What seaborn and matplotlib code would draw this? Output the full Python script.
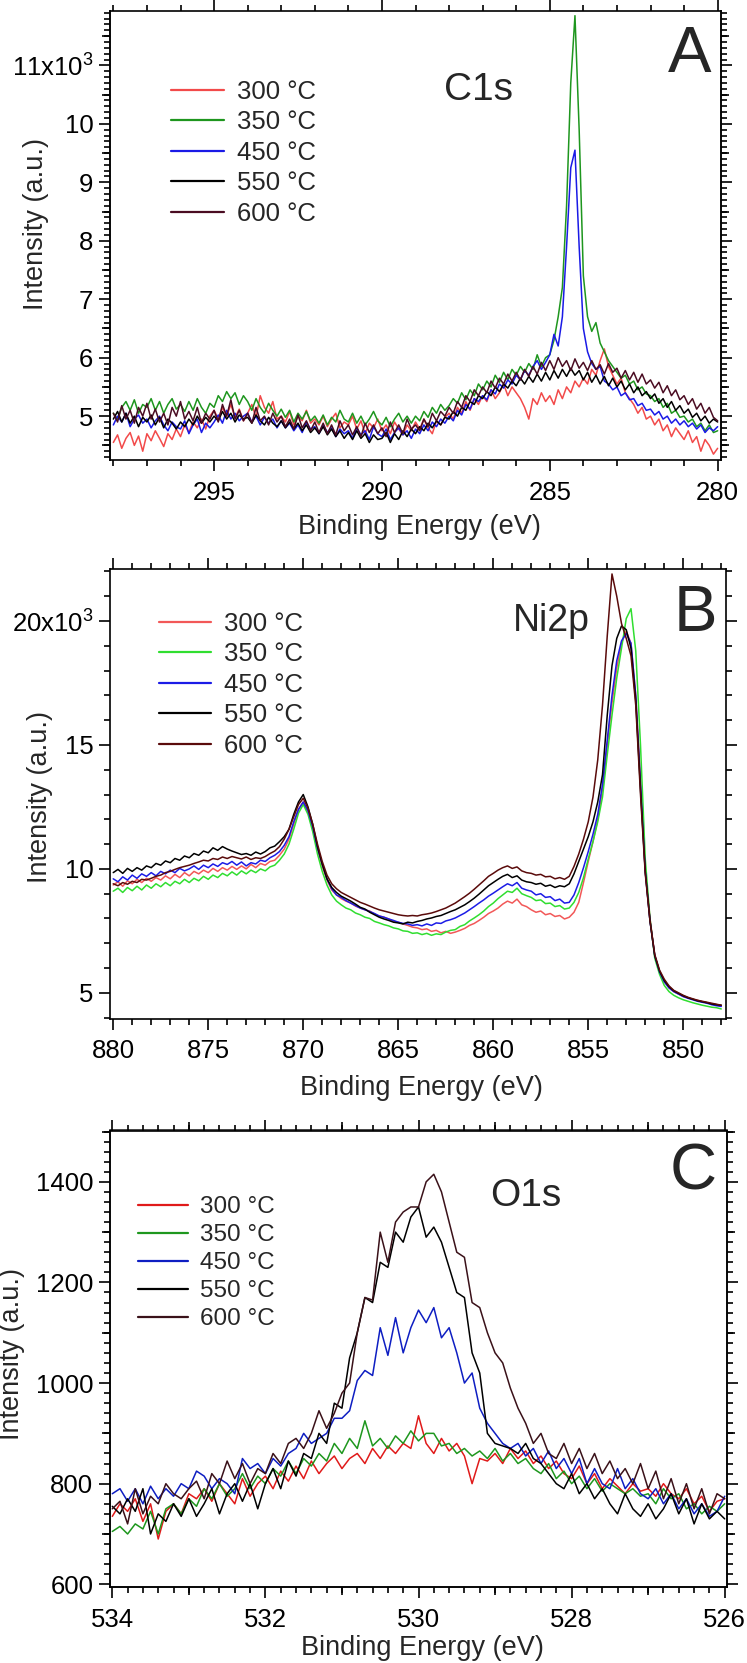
import numpy as np
import pandas as pd
import matplotlib
matplotlib.use("Agg")
import matplotlib.pyplot as plt
import seaborn as sns
from matplotlib.ticker import MultipleLocator, FuncFormatter

sns.set_theme(style="ticks")
plt.rcParams['font.family'] = ['Liberation Sans', 'DejaVu Sans']
plt.rcParams['mathtext.default'] = 'regular'

W, H = 747, 1663

# ==========================================
# DATA
# ==========================================
temps = ["300 °C", "350 °C", "450 °C", "550 °C", "600 °C"]

# --- Panel A: C1s, intensity in 10^3 counts (one row = 1 eV) ---
c1s_energy = [298.0, 297.875, 297.75, 297.625, 297.5, 297.375, 297.25, 297.125,
              297.0, 296.875, 296.75, 296.625, 296.5, 296.375, 296.25, 296.125,
              296.0, 295.875, 295.75, 295.625, 295.5, 295.375, 295.25, 295.125,
              295.0, 294.875, 294.75, 294.625, 294.5, 294.375, 294.25, 294.125,
              294.0, 293.875, 293.75, 293.625, 293.5, 293.375, 293.25, 293.125,
              293.0, 292.875, 292.75, 292.625, 292.5, 292.375, 292.25, 292.125,
              292.0, 291.875, 291.75, 291.625, 291.5, 291.375, 291.25, 291.125,
              291.0, 290.875, 290.75, 290.625, 290.5, 290.375, 290.25, 290.125,
              290.0, 289.875, 289.75, 289.625, 289.5, 289.375, 289.25, 289.125,
              289.0, 288.875, 288.75, 288.625, 288.5, 288.375, 288.25, 288.125,
              288.0, 287.875, 287.75, 287.625, 287.5, 287.375, 287.25, 287.125,
              287.0, 286.875, 286.75, 286.625, 286.5, 286.375, 286.25, 286.125,
              286.0, 285.875, 285.75, 285.625, 285.5, 285.375, 285.25, 285.125,
              285.0, 284.875, 284.75, 284.625, 284.5, 284.375, 284.25, 284.125,
              284.0, 283.875, 283.75, 283.625, 283.5, 283.375, 283.25, 283.125,
              283.0, 282.875, 282.75, 282.625, 282.5, 282.375, 282.25, 282.125,
              282.0, 281.875, 281.75, 281.625, 281.5, 281.375, 281.25, 281.125,
              281.0, 280.875, 280.75, 280.625, 280.5, 280.375, 280.25, 280.125,
              280.0]
c1s_300 = [4.55, 4.68, 4.45, 4.62, 4.72, 4.50, 4.66, 4.40,
           4.70, 4.58, 4.75, 4.62, 4.48, 4.70, 4.60, 4.78,
           4.65, 4.85, 4.72, 4.90, 4.80, 4.95, 4.78, 5.00,
           5.10, 4.95, 5.15, 5.00, 5.20, 4.98, 5.12, 4.92,
           5.05, 5.20, 4.98, 5.35, 5.15, 5.05, 5.25, 4.95,
           5.00, 4.90, 5.08, 4.85, 5.00, 4.92, 5.10, 4.88,
           4.95, 4.85, 5.00, 4.82, 4.95, 5.05, 4.80, 4.90,
           4.85, 5.00, 4.78, 4.92, 4.70, 4.88, 4.80, 4.95,
           4.75, 4.85, 4.70, 4.90, 4.78, 4.68, 4.85, 4.75,
           4.90, 4.78, 4.95, 4.80, 4.70, 4.92, 4.85, 4.98,
           5.05, 4.95, 5.15, 5.05, 5.25, 5.10, 5.30, 5.20,
           5.35, 5.25, 5.45, 5.30, 5.40, 5.55, 5.35, 5.50,
           5.40, 5.30, 5.15, 4.95, 5.30, 5.20, 5.40, 5.25,
           5.35, 5.20, 5.45, 5.30, 5.50, 5.40, 5.60, 5.50,
           5.65, 5.55, 5.80, 5.70, 5.95, 6.15, 5.85, 5.70,
           5.55, 5.65, 5.40, 5.30, 5.20, 5.05, 5.15, 4.95,
           5.00, 4.85, 4.95, 4.75, 4.85, 4.65, 4.80, 4.70,
           4.60, 4.75, 4.55, 4.65, 4.40, 4.60, 4.50, 4.35,
           4.45]
c1s_350 = [5.05, 4.95, 5.15, 5.25, 5.10, 5.28, 5.05, 5.20,
           5.15, 5.30, 5.10, 5.25, 5.05, 5.20, 5.30, 5.12,
           5.20, 5.08, 5.25, 5.10, 5.30, 5.15, 5.05, 5.22,
           5.15, 5.35, 5.25, 5.42, 5.30, 5.40, 5.20, 5.35,
           5.25, 5.10, 5.30, 5.15, 5.05, 5.22, 5.10, 5.00,
           5.12, 4.98, 5.10, 4.90, 5.05, 4.95, 5.08, 4.92,
           5.00, 4.88, 5.02, 4.85, 4.98, 4.90, 5.10, 4.95,
           4.90, 5.05, 4.88, 5.00, 4.85, 4.95, 5.08, 4.92,
           4.85, 4.98, 4.82, 4.95, 5.05, 4.90, 5.00, 4.88,
           5.00, 4.92, 5.08, 4.98, 5.15, 5.05, 5.20, 5.10,
           5.18, 5.30, 5.22, 5.40, 5.28, 5.45, 5.35, 5.55,
           5.45, 5.60, 5.50, 5.70, 5.58, 5.75, 5.62, 5.80,
           5.70, 5.85, 5.75, 5.90, 5.80, 6.05, 5.85, 6.00,
           6.05, 6.30, 6.70, 7.20, 8.60, 10.70, 11.85, 9.90,
           7.40, 6.70, 6.45, 6.60, 6.25, 6.10, 5.95, 5.85,
           5.75, 5.65, 5.70, 5.55, 5.60, 5.45, 5.50, 5.38,
           5.35, 5.25, 5.30, 5.15, 5.22, 5.05, 5.10, 4.98,
           5.00, 4.90, 4.95, 4.82, 4.88, 4.75, 4.85, 4.72,
           4.75]
c1s_450 = [4.85, 5.00, 4.90, 5.05, 4.82, 4.95, 5.02, 4.88,
           4.95, 4.80, 4.92, 5.00, 4.85, 4.75, 4.90, 4.82,
           4.78, 4.92, 4.70, 4.85, 4.95, 4.72, 4.88, 4.80,
           4.90, 5.02, 4.88, 5.10, 4.95, 5.05, 4.92, 5.00,
           5.05, 4.90, 5.00, 4.85, 4.98, 4.88, 4.95, 4.80,
           4.92, 4.80, 4.88, 4.75, 4.85, 4.72, 4.90, 4.78,
           4.82, 4.70, 4.85, 4.72, 4.80, 4.65, 4.78, 4.70,
           4.75, 4.62, 4.80, 4.68, 4.75, 4.60, 4.82, 4.70,
           4.65, 4.78, 4.60, 4.72, 4.80, 4.68, 4.75, 4.62,
           4.78, 4.70, 4.85, 4.75, 4.90, 4.82, 4.95, 4.88,
           5.00, 4.92, 5.10, 5.02, 5.20, 5.12, 5.30, 5.25,
           5.35, 5.28, 5.45, 5.38, 5.55, 5.48, 5.62, 5.55,
           5.70, 5.62, 5.78, 5.70, 5.85, 5.95, 5.80, 5.92,
           6.05, 6.40, 6.20, 6.70, 7.90, 9.25, 9.55, 7.90,
           6.50, 6.10, 5.90, 5.80, 5.85, 5.60, 5.55, 5.45,
           5.50, 5.35, 5.40, 5.28, 5.30, 5.18, 5.22, 5.10,
           5.12, 5.02, 5.08, 4.95, 5.00, 4.88, 4.95, 4.85,
           4.92, 4.82, 4.88, 4.78, 4.85, 4.72, 4.80, 4.75,
           4.82]
c1s_550 = [4.95, 5.08, 4.90, 5.05, 4.88, 5.00, 4.82, 4.98,
           4.90, 5.02, 4.85, 4.98, 4.80, 4.95, 4.88, 4.78,
           4.90, 4.82, 4.95, 4.85, 5.00, 4.88, 4.98, 4.90,
           5.00, 4.92, 5.08, 4.95, 5.05, 4.90, 5.02, 4.95,
           4.98, 4.88, 5.02, 4.92, 4.85, 4.98, 4.88, 4.82,
           4.92, 4.80, 4.90, 4.78, 4.88, 4.75, 4.85, 4.72,
           4.80, 4.70, 4.82, 4.68, 4.78, 4.65, 4.75, 4.62,
           4.72, 4.60, 4.75, 4.62, 4.70, 4.55, 4.68, 4.60,
           4.62, 4.72, 4.55, 4.70, 4.60, 4.75, 4.65, 4.78,
           4.70, 4.82, 4.75, 4.88, 4.80, 4.92, 4.85, 4.98,
           4.95, 5.08, 5.00, 5.15, 5.10, 5.25, 5.20, 5.35,
           5.30, 5.42, 5.35, 5.50, 5.42, 5.55, 5.48, 5.60,
           5.52, 5.65, 5.55, 5.68, 5.58, 5.72, 5.60, 5.75,
           5.62, 5.78, 5.65, 5.80, 5.68, 5.82, 5.70, 5.78,
           5.62, 5.75, 5.58, 5.70, 5.55, 5.68, 5.52, 5.65,
           5.50, 5.60, 5.45, 5.55, 5.40, 5.50, 5.35, 5.42,
           5.30, 5.38, 5.22, 5.30, 5.15, 5.25, 5.10, 5.18,
           5.05, 5.12, 4.98, 5.05, 4.92, 5.00, 4.88, 4.95,
           4.90]
c1s_600 = [5.05, 4.90, 5.18, 4.95, 5.10, 4.88, 5.15, 5.00,
           5.22, 4.95, 5.12, 4.90, 5.05, 4.85, 5.15, 5.00,
           5.25, 4.95, 5.08, 4.92, 5.15, 4.88, 5.05, 4.95,
           5.10, 4.90, 5.20, 5.00, 5.28, 4.95, 5.10, 4.92,
           5.05, 4.88, 5.15, 4.92, 5.00, 4.85, 5.05, 4.90,
           5.00, 4.82, 4.95, 4.78, 5.02, 4.80, 4.92, 4.75,
           4.90, 4.72, 4.88, 4.70, 4.85, 4.68, 4.92, 4.75,
           4.85, 4.68, 4.82, 4.65, 4.88, 4.72, 4.85, 4.70,
           4.80, 4.65, 4.90, 4.72, 4.85, 4.70, 4.95, 4.78,
           4.85, 4.75, 4.95, 4.82, 5.05, 4.92, 5.08, 5.00,
           5.15, 5.05, 5.25, 5.15, 5.35, 5.25, 5.45, 5.35,
           5.50, 5.40, 5.60, 5.48, 5.65, 5.55, 5.72, 5.60,
           5.75, 5.62, 5.80, 5.68, 5.85, 5.72, 5.92, 5.78,
           5.95, 5.80, 6.00, 5.85, 5.95, 5.78, 5.98, 5.82,
           5.92, 5.78, 5.95, 5.80, 5.88, 5.72, 5.90, 5.75,
           5.82, 5.65, 5.78, 5.62, 5.75, 5.58, 5.72, 5.55,
           5.62, 5.48, 5.58, 5.40, 5.52, 5.35, 5.45, 5.28,
           5.35, 5.20, 5.30, 5.12, 5.22, 5.05, 5.15, 4.98,
           4.92]
c1s_colors = ["#f24a4a", "#1e961e", "#1a1ae6", "#000000", "#4a0c22"]

# --- Panel B: Ni2p, intensity in 10^3 counts (one row = 2 eV) ---
ni2p_energy = [880.0, 879.75, 879.5, 879.25, 879.0, 878.75, 878.5, 878.25,
               878.0, 877.75, 877.5, 877.25, 877.0, 876.75, 876.5, 876.25,
               876.0, 875.75, 875.5, 875.25, 875.0, 874.75, 874.5, 874.25,
               874.0, 873.75, 873.5, 873.25, 873.0, 872.75, 872.5, 872.25,
               872.0, 871.75, 871.5, 871.25, 871.0, 870.75, 870.5, 870.25,
               870.0, 869.75, 869.5, 869.25, 869.0, 868.75, 868.5, 868.25,
               868.0, 867.75, 867.5, 867.25, 867.0, 866.75, 866.5, 866.25,
               866.0, 865.75, 865.5, 865.25, 865.0, 864.75, 864.5, 864.25,
               864.0, 863.75, 863.5, 863.25, 863.0, 862.75, 862.5, 862.25,
               862.0, 861.75, 861.5, 861.25, 861.0, 860.75, 860.5, 860.25,
               860.0, 859.75, 859.5, 859.25, 859.0, 858.75, 858.5, 858.25,
               858.0, 857.75, 857.5, 857.25, 857.0, 856.75, 856.5, 856.25,
               856.0, 855.75, 855.5, 855.25, 855.0, 854.75, 854.5, 854.25,
               854.0, 853.75, 853.5, 853.25, 853.0, 852.75, 852.5, 852.25,
               852.0, 851.75, 851.5, 851.25, 851.0, 850.75, 850.5, 850.25,
               850.0, 849.75, 849.5, 849.25, 849.0, 848.75, 848.5, 848.25,
               848.0]
ni2p_300 = [9.35, 9.48, 9.30, 9.52, 9.40, 9.58, 9.45, 9.62,
            9.50, 9.65, 9.55, 9.72, 9.60, 9.78, 9.65, 9.85,
            9.72, 9.90, 9.80, 9.95, 9.85, 10.02, 9.90, 10.05,
            9.95, 10.10, 9.98, 10.12, 10.00, 10.18, 10.05, 10.22,
            10.15, 10.30, 10.35, 10.55, 10.80, 11.20, 11.80, 12.40,
            12.70, 12.30, 11.60, 10.80, 10.10, 9.55, 9.15, 8.95,
            8.80, 8.70, 8.62, 8.50, 8.42, 8.35, 8.30, 8.18,
            8.10, 8.05, 7.98, 7.88, 7.85, 7.78, 7.72, 7.65,
            7.62, 7.55, 7.58, 7.48, 7.52, 7.42, 7.48, 7.40,
            7.45, 7.52, 7.60, 7.72, 7.80, 7.92, 8.05, 8.20,
            8.30, 8.42, 8.58, 8.70, 8.62, 8.78, 8.55, 8.48,
            8.35, 8.25, 8.30, 8.15, 8.20, 8.08, 8.12, 7.98,
            8.05, 8.25, 8.65, 9.45, 10.30, 11.10, 12.00, 13.20,
            15.00, 16.70, 18.10, 19.10, 19.60, 19.10, 17.00, 13.60,
            10.00, 8.00, 6.50, 5.85, 5.45, 5.20, 5.05, 4.95,
            4.85, 4.80, 4.74, 4.70, 4.64, 4.60, 4.55, 4.52,
            4.48]
ni2p_350 = [9.10, 9.22, 9.05, 9.25, 9.12, 9.30, 9.15, 9.35,
            9.22, 9.40, 9.28, 9.45, 9.32, 9.50, 9.40, 9.58,
            9.45, 9.62, 9.52, 9.70, 9.58, 9.75, 9.65, 9.82,
            9.72, 9.88, 9.75, 9.92, 9.80, 9.95, 9.85, 10.00,
            9.92, 10.08, 10.15, 10.35, 10.60, 11.00, 11.60, 12.25,
            12.60, 12.20, 11.50, 10.60, 9.90, 9.35, 8.95, 8.70,
            8.55, 8.42, 8.35, 8.22, 8.15, 8.05, 8.00, 7.88,
            7.82, 7.75, 7.70, 7.62, 7.58, 7.50, 7.48, 7.40,
            7.42, 7.35, 7.40, 7.32, 7.38, 7.35, 7.45, 7.52,
            7.55, 7.68, 7.75, 7.90, 8.02, 8.15, 8.30, 8.48,
            8.62, 8.80, 8.95, 9.10, 9.05, 9.22, 9.00, 8.92,
            8.85, 8.72, 8.75, 8.60, 8.62, 8.48, 8.52, 8.38,
            8.42, 8.65, 9.05, 9.65, 10.40, 11.10, 11.90, 12.90,
            14.60, 16.20, 17.70, 18.90, 20.10, 20.50, 18.80, 15.00,
            10.40, 8.00, 6.40, 5.75, 5.30, 5.05, 4.90, 4.80,
            4.72, 4.66, 4.60, 4.55, 4.50, 4.46, 4.42, 4.40,
            4.35]
ni2p_450 = [9.60, 9.48, 9.68, 9.55, 9.75, 9.62, 9.80, 9.70,
            9.85, 9.72, 9.90, 9.80, 9.95, 9.85, 10.02, 9.92,
            10.00, 10.12, 9.98, 10.15, 10.05, 10.20, 10.10, 10.25,
            10.18, 10.30, 10.15, 10.28, 10.12, 10.25, 10.20, 10.35,
            10.30, 10.45, 10.55, 10.70, 10.95, 11.30, 11.90, 12.40,
            12.70, 12.35, 11.70, 10.85, 10.20, 9.60, 9.20, 8.95,
            8.85, 8.72, 8.62, 8.52, 8.42, 8.35, 8.28, 8.20,
            8.10, 8.05, 7.98, 7.92, 7.85, 7.80, 7.78, 7.72,
            7.75, 7.70, 7.78, 7.72, 7.82, 7.80, 7.90, 7.95,
            8.02, 8.12, 8.22, 8.35, 8.48, 8.62, 8.75, 8.90,
            9.02, 9.15, 9.28, 9.40, 9.32, 9.45, 9.22, 9.15,
            9.10, 8.95, 9.00, 8.85, 8.88, 8.72, 8.78, 8.62,
            8.65, 8.95, 9.45, 10.05, 10.70, 11.40, 12.20, 13.40,
            15.20, 17.00, 18.40, 19.20, 19.50, 19.10, 17.00, 13.40,
            9.90, 7.90, 6.50, 5.85, 5.45, 5.20, 5.05, 4.95,
            4.85, 4.78, 4.72, 4.66, 4.62, 4.58, 4.52, 4.48,
            4.45]
ni2p_550 = [9.85, 9.98, 9.82, 10.02, 9.90, 10.05, 9.95, 10.12,
            10.05, 10.22, 10.15, 10.32, 10.25, 10.42, 10.35, 10.52,
            10.45, 10.62, 10.55, 10.72, 10.65, 10.85, 10.75, 10.90,
            10.80, 10.72, 10.65, 10.58, 10.62, 10.55, 10.68, 10.60,
            10.70, 10.85, 10.92, 11.10, 11.30, 11.60, 12.20, 12.70,
            13.00, 12.50, 11.80, 10.90, 10.20, 9.60, 9.25, 9.05,
            8.90, 8.80, 8.70, 8.58, 8.45, 8.38, 8.25, 8.15,
            8.05, 7.98, 7.92, 7.85, 7.82, 7.78, 7.85, 7.82,
            7.88, 7.92, 7.98, 8.02, 8.08, 8.12, 8.20, 8.28,
            8.35, 8.45, 8.55, 8.68, 8.82, 8.98, 9.15, 9.32,
            9.45, 9.58, 9.70, 9.78, 9.65, 9.72, 9.55, 9.48,
            9.45, 9.38, 9.42, 9.30, 9.35, 9.25, 9.32, 9.28,
            9.40, 9.80, 10.30, 10.80, 11.30, 11.90, 12.70, 13.80,
            16.20, 18.20, 19.30, 19.80, 19.65, 18.90, 16.80, 13.20,
            9.90, 7.90, 6.50, 5.88, 5.50, 5.25, 5.08, 4.98,
            4.88, 4.80, 4.74, 4.68, 4.64, 4.60, 4.55, 4.52,
            4.50]
ni2p_600 = [9.40, 9.32, 9.45, 9.38, 9.50, 9.45, 9.58, 9.55,
            9.62, 9.70, 9.75, 9.85, 9.90, 9.98, 10.05, 10.10,
            10.15, 10.22, 10.28, 10.35, 10.32, 10.42, 10.38, 10.48,
            10.42, 10.50, 10.45, 10.40, 10.48, 10.38, 10.45, 10.42,
            10.50, 10.62, 10.72, 10.90, 11.20, 11.60, 12.10, 12.60,
            12.85, 12.45, 11.80, 11.00, 10.30, 9.75, 9.40, 9.20,
            9.05, 8.95, 8.85, 8.75, 8.65, 8.58, 8.50, 8.42,
            8.35, 8.30, 8.25, 8.20, 8.15, 8.12, 8.10, 8.12,
            8.10, 8.15, 8.18, 8.22, 8.28, 8.35, 8.42, 8.52,
            8.62, 8.75, 8.88, 9.02, 9.18, 9.35, 9.52, 9.70,
            9.82, 9.95, 10.05, 10.12, 10.02, 10.08, 9.92, 9.85,
            9.82, 9.75, 9.78, 9.68, 9.70, 9.60, 9.65, 9.58,
            9.70, 10.10, 10.60, 11.20, 11.90, 12.90, 14.40, 16.60,
            19.40, 21.90, 21.00, 19.90, 19.30, 18.60, 16.60, 13.00,
            9.80, 7.90, 6.55, 5.92, 5.55, 5.28, 5.10, 5.00,
            4.90, 4.82, 4.76, 4.70, 4.66, 4.62, 4.58, 4.54,
            4.50]
ni2p_colors = ["#f25858", "#30de30", "#1c1ce6", "#000000", "#5a0b0b"]

# --- Panel C: O1s, intensity in counts (one row = 1 eV) ---
o1s_energy = [534.0, 533.9, 533.8, 533.7, 533.6, 533.5, 533.4, 533.3, 533.2, 533.1,
              533.0, 532.9, 532.8, 532.7, 532.6, 532.5, 532.4, 532.3, 532.2, 532.1,
              532.0, 531.9, 531.8, 531.7, 531.6, 531.5, 531.4, 531.3, 531.2, 531.1,
              531.0, 530.9, 530.8, 530.7, 530.6, 530.5, 530.4, 530.3, 530.2, 530.1,
              530.0, 529.9, 529.8, 529.7, 529.6, 529.5, 529.4, 529.3, 529.2, 529.1,
              529.0, 528.9, 528.8, 528.7, 528.6, 528.5, 528.4, 528.3, 528.2, 528.1,
              528.0, 527.9, 527.8, 527.7, 527.6, 527.5, 527.4, 527.3, 527.2, 527.1,
              527.0, 526.9, 526.8, 526.7, 526.6, 526.5, 526.4, 526.3, 526.2, 526.1,
              526.0]
o1s_300 = [735, 760, 745, 770, 725, 760, 690, 745, 760, 740,
           780, 770, 790, 765, 800, 780, 760, 810, 775, 800,
           815, 790, 825, 805, 835, 810, 845, 820, 840, 855,
           830, 850, 860, 840, 870, 850, 875, 860, 880, 870,
           935, 880, 860, 890, 865, 880, 855, 800, 850, 845,
           860, 840, 870, 850, 865, 840, 855, 830, 845, 820,
           810, 835, 800, 820, 790, 810, 795, 780, 800, 785,
           790, 775, 800, 780, 770, 790, 760, 775, 745, 765,
           770]
o1s_350 = [705, 715, 700, 720, 710, 745, 700, 750, 760, 740,
           770, 755, 790, 770, 800, 775, 790, 820, 790, 815,
           800, 830, 815, 845, 820, 850, 835, 860, 845, 880,
           860, 890, 870, 925, 875, 890, 870, 895, 880, 905,
           885, 900, 900, 875, 880, 860, 870, 855, 865, 850,
           870, 845, 860, 840, 850, 830, 820, 840, 810, 825,
           800, 815, 790, 810, 785, 800, 790, 780, 790, 775,
           780, 760, 790, 770, 780, 750, 760, 740, 755, 745,
           760]
o1s_450 = [780, 790, 765, 790, 760, 795, 770, 790, 775, 800,
           790, 825, 815, 790, 810, 800, 780, 850, 830, 840,
           820, 850, 835, 860, 870, 900, 880, 890, 900, 930,
           930, 945, 1005, 1025, 1015, 1110, 1055, 1130, 1060, 1110,
           1145, 1120, 1150, 1090, 1110, 1060, 1000, 1020, 950, 920,
           900, 880, 870, 880, 855, 870, 840, 865, 830, 850,
           820, 850, 800, 830, 800, 790, 830, 790, 810, 780,
           770, 790, 760, 780, 750, 770, 740, 760, 735, 745,
           775]
o1s_550 = [755, 740, 770, 745, 790, 700, 740, 725, 760, 735,
           770, 735, 760, 790, 740, 780, 800, 765, 800, 750,
           800, 830, 790, 845, 815, 860, 850, 900, 880, 960,
           950, 1050, 1100, 1170, 1160, 1240, 1230, 1300, 1280, 1330,
           1350, 1290, 1310, 1280, 1230, 1180, 1170, 1060, 1020, 900,
           880, 875, 870, 860, 880, 850, 840, 820, 800, 790,
           820, 780, 800, 770, 790, 760, 740, 780, 750, 735,
           760, 730, 750, 780, 740, 770, 720, 760, 730, 745,
           730]
o1s_600 = [750, 765, 720, 790, 740, 775, 760, 800, 780, 770,
           790, 805, 770, 820, 800, 845, 810, 840, 800, 830,
           820, 860, 840, 880, 890, 870, 900, 945, 910, 940,
           980, 1000, 1100, 1170, 1165, 1300, 1240, 1320, 1340, 1350,
           1350, 1400, 1415, 1380, 1320, 1260, 1250, 1160, 1150, 1100,
           1060, 1040, 990, 950, 920, 880, 900, 860, 850, 880,
           840, 870, 830, 860, 820, 845, 810, 830, 800, 840,
           790, 825, 770, 810, 760, 800, 750, 790, 740, 780,
           770]
o1s_colors = ["#e01a1a", "#1e971e", "#0e1ec2", "#000000", "#3a1119"]


# ==========================================
# HELPERS
# ==========================================
def fpx(x, y):
    """pixel position (from top-left) -> figure fraction"""
    return x / W, 1 - y / H


def draw_panel(ax, energy, series, colors):
    frame = pd.concat([pd.DataFrame({"energy": energy, "intensity": vals, "temp": t})
                       for t, vals in zip(temps, series)], ignore_index=True)
    sns.lineplot(data=frame, x="energy", y="intensity", hue="temp", hue_order=temps,
                 palette=colors, linewidth=1.1, sort=False, estimator=None, ax=ax)
    ax.set_xlabel("")
    ax.set_ylabel("")


def style_axes(ax, xlim, ylim, xmaj, xmin, ymaj, ymin):
    ax.set_xlim(*xlim)
    ax.set_ylim(*ylim)
    ax.xaxis.set_major_locator(MultipleLocator(xmaj))
    ax.xaxis.set_minor_locator(MultipleLocator(xmin))
    ax.yaxis.set_major_locator(MultipleLocator(ymaj))
    ax.yaxis.set_minor_locator(MultipleLocator(ymin))
    for s in ax.spines.values():
        s.set_visible(True)
        s.set_linewidth(1.2)
        s.set_color("black")
    ax.tick_params(which="both", direction="out", top=True, right=True, bottom=True, left=True,
                   width=1.2, color="black", labelsize=18.5, labelcolor="black")
    ax.tick_params(which="major", length=8)
    ax.tick_params(which="minor", length=4)
    ax.tick_params(axis="x", which="major", pad=7)
    ax.tick_params(axis="y", which="major", pad=4)
    ax.grid(False)


def add_medium_ticks(ax, axis, positions):
    if axis == "x":
        for side in ("bottom", "top"):
            sec = ax.secondary_xaxis(side)
            sec.set_xticks(positions)
            sec.tick_params(direction="out", length=6, width=1.2, color="black",
                            labelbottom=False, labeltop=False)
            sec.spines[side].set_linewidth(1.2)
    else:
        for side in ("left", "right"):
            sec = ax.secondary_yaxis(side)
            sec.set_yticks(positions)
            sec.tick_params(direction="out", length=6, width=1.2, color="black",
                            labelleft=False, labelright=False)
            sec.spines[side].set_linewidth(1.2)


def add_legend(ax, fig, anchor_px, fontsize):
    handles, labels = ax.get_legend_handles_labels()
    leg = ax.legend(handles, labels, loc="upper left", bbox_to_anchor=fpx(*anchor_px),
                    bbox_transform=fig.transFigure, frameon=False, fontsize=fontsize,
                    handlelength=2.05, handletextpad=0.5, labelspacing=0.25,
                    borderpad=0, borderaxespad=0)
    for line in leg.get_lines():
        line.set_linewidth(1.6)


def kilo_formatter(top_value):
    def fmt(v, pos):
        if abs(v - top_value) < 1e-6:
            return f"{v:.0f}x10$^3$"
        return f"{v:.0f}"
    return FuncFormatter(fmt)


# ==========================================
# FIGURE
# ==========================================
fig = plt.figure(figsize=(W / 100, H / 100), dpi=100)

axA = fig.add_axes([110 / W, 1 - 460 / H, 611 / W, 449 / H])
axB = fig.add_axes([110 / W, 1 - 1018.6 / H, 616 / W, 449.6 / H])
axC = fig.add_axes([110 / W, 1 - 1587 / H, 617 / W, 456.5 / H])

# Panel A
draw_panel(axA, c1s_energy, [c1s_300, c1s_350, c1s_450, c1s_550, c1s_600], c1s_colors)
style_axes(axA, (298.1, 279.9), (4.25, 11.93), 5, 1, 1, 0.1)
axA.yaxis.set_major_formatter(kilo_formatter(11))
add_medium_ticks(axA, "y", np.arange(4.5, 12.0, 1.0))
add_legend(axA, fig, (171, 80), 18.5)

# Panel B
draw_panel(axB, ni2p_energy, [ni2p_300, ni2p_350, ni2p_450, ni2p_550, ni2p_600], ni2p_colors)
style_axes(axB, (880.17, 847.75), (3.96, 22.1), 5, 1, 5, 1)
axB.yaxis.set_major_formatter(kilo_formatter(20))
add_legend(axB, fig, (158.6, 612), 18.5)

# Panel C
draw_panel(axC, o1s_energy, [o1s_300, o1s_350, o1s_450, o1s_550, o1s_600], o1s_colors)
style_axes(axC, (534.03, 525.97), (594.6, 1502), 2, 0.2, 200, 20)
add_medium_ticks(axC, "x", [533, 531, 529, 527])
add_medium_ticks(axC, "y", [700, 900, 1100, 1300, 1500])
add_legend(axC, fig, (138, 1196), 17.5)

# Panel annotations
fig.text(*fpx(479, 100), "C1s", fontsize=28, ha="center", va="baseline")
fig.text(*fpx(690, 72), "A", fontsize=47, ha="center", va="baseline")
fig.text(*fpx(551, 631), "Ni2p", fontsize=27, ha="center", va="baseline")
fig.text(*fpx(695, 631), "B", fontsize=47, ha="center", va="baseline")
fig.text(*fpx(526, 1205.7), "O1s", fontsize=28, ha="center", va="baseline")
fig.text(*fpx(693.5, 1190), "C", fontsize=47, ha="center", va="baseline")

# Axis labels
for (xc, yc) in [(36, 224), (40, 797), (12, 1354)]:
    fig.text(*fpx(xc, yc), "Intensity (a.u.)", fontsize=19.5, rotation=90,
             ha="center", va="center")
for (xc, yb) in [(419, 534), (421, 1095), (422, 1655)]:
    fig.text(*fpx(xc, yb), "Binding Energy (eV)", fontsize=19.5, ha="center", va="baseline")

fig.savefig("out.png", dpi=100)
